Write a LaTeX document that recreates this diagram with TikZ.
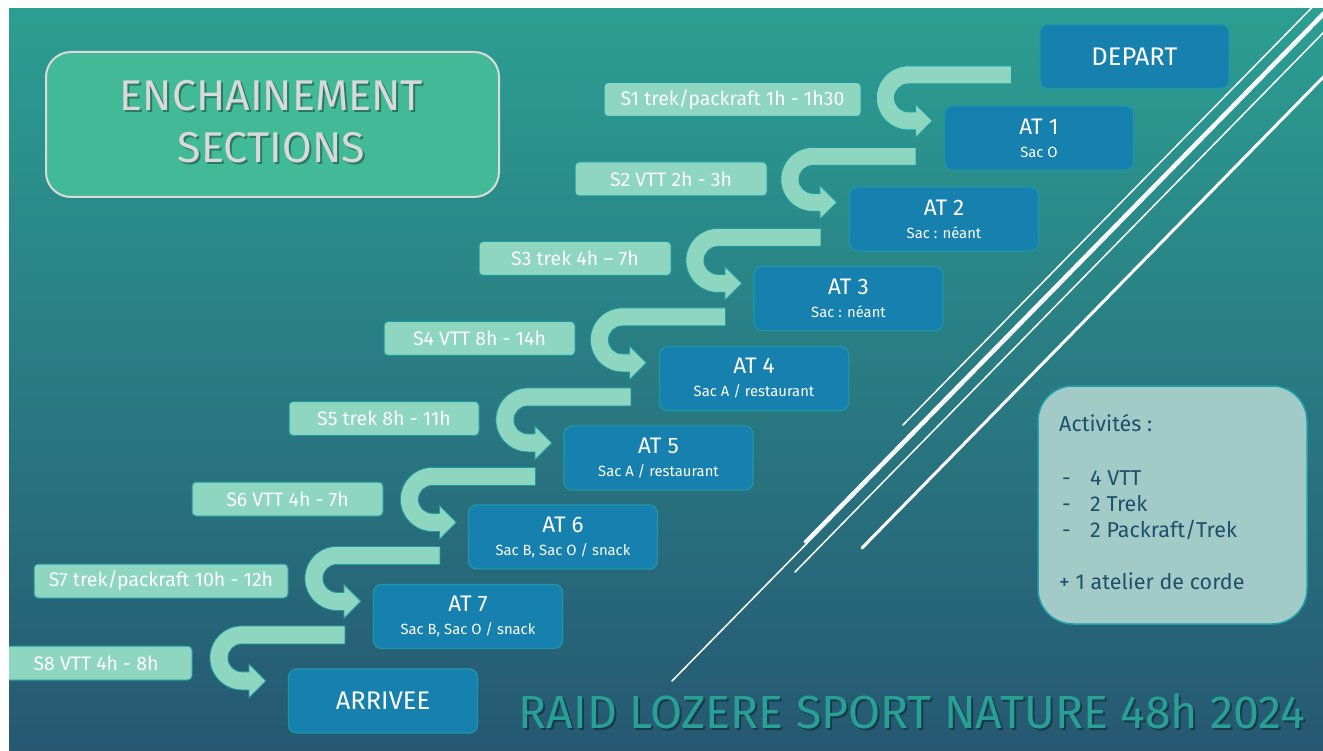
\documentclass[tikz,border=0pt]{standalone}
\usepackage{fontspec}
\setmainfont{Fira Sans}
\usetikzlibrary{calc}

\definecolor{bgtop}{RGB}{44,158,146}
\definecolor{bgbot}{RGB}{38,88,114}
\definecolor{atblue}{RGB}{22,128,174}
\definecolor{atedge}{RGB}{30,152,168}
\definecolor{mint}{RGB}{142,214,192}
\definecolor{minted}{RGB}{28,156,162}
\definecolor{titlegreen}{RGB}{66,186,151}
\definecolor{titleedge}{RGB}{218,218,218}
\definecolor{titletext}{RGB}{217,217,217}
\definecolor{actfill}{RGB}{162,203,200}
\definecolor{actedge}{RGB}{32,160,170}
\definecolor{acttext}{RGB}{31,79,107}
\definecolor{raidtext}{RGB}{40,160,150}

\tikzset{
  atbox/.style={rectangle, rounded corners=8pt, fill=atblue, draw=atedge, line width=1.2pt,
    minimum width=189pt, minimum height=64pt, inner sep=0pt, text=white, align=center,
    font=\fontsize{22.5}{26}\selectfont},
  seclabel/.style={rectangle, rounded corners=4pt, fill=mint, draw=minted, line width=1pt,
    minimum height=34pt, inner sep=0pt, text=white, font=\fontsize{19.5}{22}\selectfont},
  sarrow/.style={fill=mint, draw=minted, line width=0.8pt},
  titlebox/.style={rectangle, rounded corners=25pt, fill=titlegreen, draw=titleedge, line width=2pt,
    minimum width=453pt, minimum height=145pt},
  titletxt/.style={align=center, text=titletext, font=\fontsize{43}{52}\selectfont},
  acttxt/.style={anchor=base west, inner sep=0pt, text=acttext, font=\fontsize{21.5}{24}\selectfont},
  raidtxt/.style={anchor=base, inner sep=0pt, text=raidtext, font=\fontsize{46.5}{50}\selectfont},
  diag/.style={white, line cap=round},
}

% second line of an AT box
\newcommand\subline[1]{\\[-3pt]{\fontsize{14.8}{16}\selectfont #1}}
% dash of the activity list
\newcommand\actdash{\makebox[28pt][l]{-}}
% U-turn arrow from one box to the next
\newcommand\sectionarrow[2]{%
  \filldraw[sarrow] ($(#1.north west)+(-28,42)$) -- ++(-103,0)
    arc[start angle=270, end angle=90, radius=32] -- ++(7,0) -- ++(0,8)
    -- ++(17,-17) -- ++(-17,-17) -- ++(0,8) -- ++(-7,0)
    arc[start angle=90, end angle=270, radius=14] -- ++(103,0) -- cycle;
}

\begin{document}
\begin{tikzpicture}[x=1pt,y=-1pt]
  \useasboundingbox (0,0) rectangle (1323,751);
  \fill[white] (0,0) rectangle (1323,751);
  \begin{scope}
  \clip (9,9) rectangle (1323,751);
  \shade[top color=bgtop, bottom color=bgbot] (9,9) rectangle (1323,751);

  % white strokes
  \draw[diag, line width=1.5pt] (672,681) -- ++(720,-735);
  \draw[diag, line width=1.5pt] (795,572) -- ++(720,-735);
  \draw[diag, line width=3pt] (805,542) -- ++(720,-735);
  \draw[diag, line width=3pt] (862,548) -- ++(720,-735);
  \draw[diag, line width=1.5pt] (903,425) -- ++(720,-735);

  % title
  \node[titlebox] (titlebox) at (272.5,124.5) {};
  \node[titletxt, text=black, opacity=.35] (titleshadow) at (273.5,124) {ENCHAINEMENT\\SECTIONS};
  \node[titletxt] (title) at (271.5,122) {ENCHAINEMENT\\SECTIONS};

  % stages
  \node[atbox, font=\fontsize{25.5}{28}\selectfont] (dep) at (1134.5,56.5) {DEPART};
  \node[atbox] (at1) at (1039,138) {AT 1\subline{Sac O}};
  \node[atbox] (at2) at (944,219) {AT 2\subline{Sac : néant}};
  \node[atbox] (at3) at (848.5,298.5) {AT 3\subline{Sac : néant}};
  \node[atbox] (at4) at (754,378.5) {AT 4\subline{Sac A / restaurant}};
  \node[atbox] (at5) at (658.5,458) {AT 5\subline{Sac A / restaurant}};
  \node[atbox] (at6) at (563,537) {AT 6\subline{Sac B, Sac O / snack}};
  \node[atbox] (at7) at (468,616.5) {AT 7\subline{Sac B, Sac O / snack}};
  \node[atbox, font=\fontsize{25.5}{28}\selectfont] (arr) at (383,701) {ARRIVEE};

  \sectionarrow{dep}{at1}
  \sectionarrow{at1}{at2}
  \sectionarrow{at2}{at3}
  \sectionarrow{at3}{at4}
  \sectionarrow{at4}{at5}
  \sectionarrow{at5}{at6}
  \sectionarrow{at6}{at7}
  \sectionarrow{at7}{arr}

  % sections
  \node[seclabel, minimum width=257pt] (s1) at (732.5,99.5) {S1 trek/packraft 1h - 1h30};
  \node[seclabel, minimum width=192pt] (s2) at (671,179) {S2 VTT 2h - 3h};
  \node[seclabel, minimum width=192pt] (s3) at (575,258.5) {S3 trek 4h – 7h};
  \node[seclabel, minimum width=191pt] (s4) at (479.5,338.5) {S4 VTT 8h - 14h};
  \node[seclabel, minimum width=190pt] (s5) at (384,418.5) {S5 trek 8h - 11h};
  \node[seclabel, minimum width=191pt] (s6) at (287.5,499) {S6 VTT 4h - 7h};
  \node[seclabel, minimum width=254pt] (s7) at (161,581) {S7 trek/packraft 10h - 12h};
  \node[seclabel, minimum width=192pt] (s8) at (96,663) {S8 VTT 4h - 8h};

  % activities
  \node[rectangle, rounded corners=35pt, fill=actfill, draw=actedge, line width=1.5pt,
    minimum width=269pt, minimum height=238pt] (actbox) at (1172.5,505) {};
  \node[acttxt] (act) at (1059,431) {Activités :};
  \node[acttxt] (act1) at (1062,485) {\actdash 4 VTT};
  \node[acttxt] (act2) at (1062,511) {\actdash 2 Trek};
  \node[acttxt] (act3) at (1062,537) {\actdash 2 Packraft/Trek};
  \node[acttxt] (corde) at (1059,589) {+ 1 atelier de corde};

  % footer
  \node[raidtxt, text=black, opacity=.35] (raidshadow) at (914,730) {RAID LOZERE SPORT NATURE 48h 2024};
  \node[raidtxt] (raid) at (912,728) {RAID LOZERE SPORT NATURE 48h 2024};
  \end{scope}
\end{tikzpicture}
\end{document}
